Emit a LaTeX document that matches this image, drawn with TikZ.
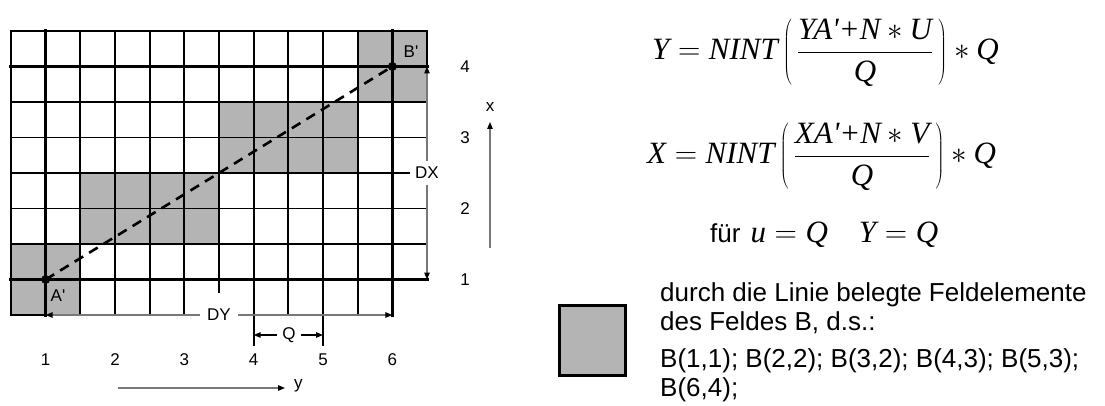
\RequirePackage{fix-cm}
\documentclass[tikz,border=0pt]{standalone}
\usepackage{fontspec}
\setmainfont{Liberation Sans}[Ligatures=TeXOff]
\newfontfamily\tim{Liberation Serif}[Ligatures=TeXOff]
\usetikzlibrary{arrows.meta}
\definecolor{cellgray}{RGB}{180,180,180}
\definecolor{dimcol}{RGB}{120,120,120}
\newcommand\gx[1]{(11+(#1)*34.667)}
\newcommand\gy[1]{(31+(#1)*35.5)}
\newcommand\mi[1]{\mbox{\tim\itshape #1}}
\begin{document}
\begin{tikzpicture}[x=1pt,y=-1pt,
 gl/.style={line width=1.7pt,line cap=rect},
 tl/.style={line width=3.4pt,line cap=rect},
 dl/.style={line width=1.2pt,draw=dimcol},
 lbl/.style={font=\fontsize{17}{20}\selectfont,inner sep=0pt},
 bigtxt/.style={anchor=base west,inner sep=0pt,font=\fontsize{26}{30}\selectfont},
 formula/.style={anchor=base west,inner sep=0pt,font=\fontsize{31}{37}\selectfont},
 dimtip/.tip={Triangle[length=7pt,width=5.5pt,color=black]}]
\useasboundingbox (0,0) rectangle (1105,406);
% grey cells
\foreach \c/\r in {10/0,11/0,10/1,11/1,6/2,7/2,8/2,9/2,6/3,7/3,8/3,9/3,2/4,3/4,4/4,5/4,2/5,3/5,4/5,5/5,0/6,1/6,0/7,1/7}
  \fill[cellgray] ({\gx{\c}},{\gy{\r}}) rectangle ({\gx{\c+1}},{\gy{\r+1}});
% vertical grid lines
\foreach \i in {0,2,3,4,5,6,8,10}
  \draw[gl] ({\gx{\i}},{\gy{0}}) -- ({\gx{\i}},{\gy{8}});
\foreach \i in {7,9}
  \draw[gl] ({\gx{\i}},{\gy{0}}) -- ({\gx{\i}},345);
\foreach \i in {1,11}
  \draw[tl] ({\gx{\i}},{\gy{0}}) -- ({\gx{\i}},{\gy{8}});
\draw[gl] ({\gx{12}},{\gy{0}}) -- ({\gx{12}},{\gy{1}});
% horizontal grid lines
\foreach \j in {0,2,3,4,5,6}
  \draw[gl] ({\gx{0}},{\gy{\j}}) -- ({\gx{12}},{\gy{\j}});
\foreach \j in {1,7}
  \draw[tl] ({\gx{0}},{\gy{\j}}) -- ({\gx{12}},{\gy{\j}});
\draw[gl] ({\gx{0}},{\gy{8}}) -- ({\gx{1}},{\gy{8}});
% key points
\coordinate (A) at ({\gx{1}},{\gy{7}});
\coordinate (B) at ({\gx{11}},{\gy{1}});
\coordinate (dxT) at ({\gx{12}},{\gy{1}});
\coordinate (dxB) at ({\gx{12}},{\gy{7}});
\coordinate (dyL) at ({\gx{1}},{\gy{8}});
\coordinate (dyR) at ({\gx{11}},{\gy{8}});
\coordinate (qL) at ({\gx{7}},335);
\coordinate (qR) at ({\gx{9}},335);
% dimension lines
\draw[dl,{dimtip}-{dimtip}] (dxB) -- (dxT);
\draw[dl,{dimtip}-{dimtip}] (dyL) -- (dyR);
\draw[line width=1.1pt,{dimtip}-{dimtip}] (qL) -- (qR);
% dashed line and points
\draw[line width=2.6pt,dash pattern=on 10pt off 7pt] (A) -- (B);
\fill (A) circle (4.5pt);
\fill (B) circle (4.5pt);
% labels
\node[lbl] (Alab) at (58,296) {A'};
\node[lbl] (Blab) at (411,52) {B'};
\node[lbl,fill=white,inner xsep=5pt,inner ysep=6pt] (DX) at ({\gx{12}},{\gy{4}}) {DX};
\node[lbl,fill=white,inner xsep=7pt,minimum height=44pt] (DY) at ({\gx{6}},{\gy{8}}) {DY};
\node[lbl,fill=white,inner xsep=5pt,inner ysep=2pt] (Q) at (289,335) {Q};
\foreach \n/\i in {1/1,2/3,3/5,4/7,5/9,6/11}
  \node[lbl] (n\n) at ({\gx{\i}},360) {\n};
\foreach \n/\j in {4/1,3/3,2/5,1/7}
  \node[lbl] (r\n) at (465,{\gy{\j}}) {\n};
% axes
\coordinate (ya) at (118,388);
\coordinate (yb) at (285,388);
\node[lbl,anchor=west] (ylab) at (294,386) {y};
\draw[dl,-{dimtip}] (ya) -- (yb);
\coordinate (xa) at (490,248);
\coordinate (xb) at (490,122);
\node[lbl] (xlab) at (490,107) {x};
\draw[dl,-{dimtip}] (xa) -- (xb);
% formulas
\node[formula] (f1) at (652,60) {$\displaystyle \mi{Y}=\mi{NINT}\left(\,\frac{\mi{YA'+N}\ast\mi{U}}{\mi{Q}}\,\right)\ast\mi{Q}$};
\node[formula] (f2) at (647,164) {$\displaystyle \mi{X}=\mi{NINT}\left(\,\frac{\mi{XA'+N}\ast\mi{V}}{\mi{Q}}\,\right)\ast\mi{Q}$};
\node[anchor=base west,inner sep=0pt] (f3) at (710,242) {{\fontsize{26}{30}\selectfont für}\hspace{10pt}{\fontsize{31}{37}\selectfont$\mi{u}=\mi{Q}\quad\mi{Y}=\mi{Q}$}};
% legend
\node[draw,line width=3pt,fill=cellgray,minimum width=66pt,minimum height=70pt,inner sep=0pt] (leg) at (592,340) {};
\node[bigtxt] (t1) at (660,301) {durch die Linie belegte Feldelemente};
\node[bigtxt] (t2) at (660,330) {des Feldes B, d.s.:};
\node[bigtxt] (t3) at (660,367) {B(1,1); B(2,2); B(3,2); B(4,3); B(5,3);};
\node[bigtxt] (t4) at (660,396) {B(6,4);};
\end{tikzpicture}
\end{document}
